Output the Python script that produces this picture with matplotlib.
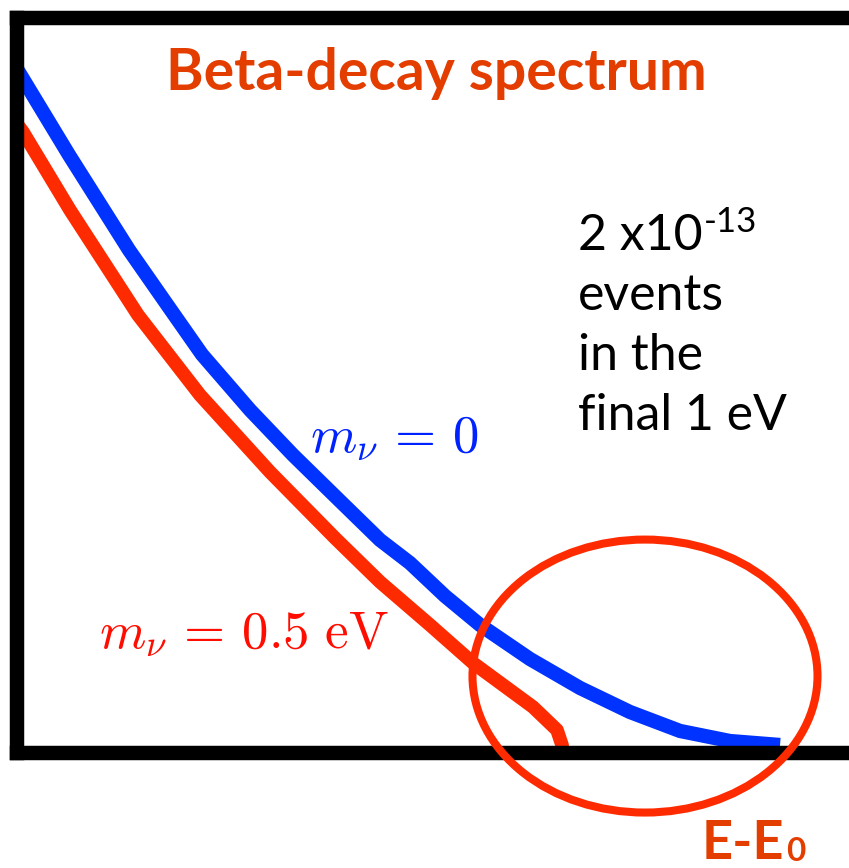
import matplotlib
matplotlib.use("Agg")
import matplotlib.pyplot as plt
from matplotlib.patches import Ellipse

plt.rcParams['mathtext.fontset'] = 'cm'

# Spectrum shape near the endpoint (normalised units: x = energy, y = rate)
e_massless = [0.0, 0.0624, 0.1343, 0.1811, 0.2218, 0.2794, 0.3309, 0.3873,
              0.4353, 0.4712, 0.5132, 0.5552, 0.6151, 0.6751, 0.7350, 0.7950,
              0.8549, 0.9149]
rate_massless = [0.9299, 0.8129, 0.6837, 0.6075, 0.5415, 0.4660, 0.4048, 0.3422,
                 0.2891, 0.2578, 0.2129, 0.1735, 0.1272, 0.0878, 0.0551, 0.0293,
                 0.0156, 0.0102]

e_massive = [0.0, 0.0072, 0.0635, 0.1451, 0.2194, 0.3034, 0.3813, 0.4353,
             0.4952, 0.5468, 0.6187, 0.6475, 0.6535, 0.6559]
rate_massive = [0.8551, 0.8442, 0.7381, 0.5952, 0.4864, 0.3816, 0.2918, 0.2320,
                0.1735, 0.1218, 0.0619, 0.0306, 0.0102, -0.0129]

# endpoint region highlighted by the ellipse
endpoint_center = (0.753, 0.104)
endpoint_size = (0.4137, 0.3714)

title = 'Beta-decay spectrum'
label_massless = r'$m_\nu \,=\, 0$'
label_massive = r'$m_\nu \,=\, 0.5\ \mathrm{eV}$'
note_lines = ['2 x10', 'events', 'in the', 'final 1 eV']
note_exp = '-13'
xlabel_main = 'E-E'
xlabel_sub = '0'

orange = '#E33D00'
line_red = '#FF2B00'
line_blue = '#0033FF'

fig = plt.figure(figsize=(8.49, 8.68), dpi=100)
ax = fig.add_axes([17 / 849, 115.5 / 868, 834 / 849, 735 / 868])
ax.set_xlim(0, 1)
ax.set_ylim(0, 1)
ax.set_xticks([])
ax.set_yticks([])
for side in ['left', 'right', 'top', 'bottom']:
    ax.spines[side].set_linewidth(10.4)
    ax.spines[side].set_color('black')
    ax.spines[side].set_capstyle('projecting')

ax.plot(e_massless, rate_massless, color=line_blue, lw=10.3,
        solid_joinstyle='round', solid_capstyle='butt')
ax.plot(e_massive, rate_massive, color=line_red, lw=9.8,
        solid_joinstyle='round', solid_capstyle='butt')

ax.add_patch(Ellipse(endpoint_center, endpoint_size[0], endpoint_size[1],
                     fill=False, edgecolor=line_red, lw=5.8, clip_on=False,
                     zorder=4))

ax.text(0.5024, 0.9014, title, color=orange, fontsize=41, fontweight='bold',
        family='Lato', ha='center', va='baseline')

ax.text(0.3513, 0.4088, label_massless, color='#0022FF', fontsize=38,
        ha='left', va='baseline')
ax.text(0.0983, 0.1422, label_massive, color='#FF0D00', fontsize=38,
        ha='left', va='baseline')

note_y = [0.6837, 0.6020, 0.5204, 0.4388]
note_texts = []
for txt, y in zip(note_lines, note_y):
    note_texts.append(ax.text(0.6727, y, txt, color='black', fontsize=36,
                              family='Lato', ha='left', va='baseline'))
ax.annotate(note_exp, xy=(1, 1), xycoords=note_texts[0], xytext=(1, 5),
            textcoords='offset points', fontsize=25, family='Lato',
            ha='left', va='top')

# energy label below the axis, subscript placed right after the main text
xl_base = -0.1449
xl = ax.text(0.8213, xl_base, xlabel_main, color=orange, fontsize=39,
             fontweight='bold', family='Lato', ha='left', va='baseline',
             clip_on=False)
ax.annotate(xlabel_sub, xy=(1, xl_base - 0.003), xycoords=(xl, 'data'),
            xytext=(1, 0), textcoords='offset points', fontsize=24,
            fontweight='bold', family='Lato', color=orange,
            ha='left', va='baseline')

fig.savefig('out.png', dpi=100)
